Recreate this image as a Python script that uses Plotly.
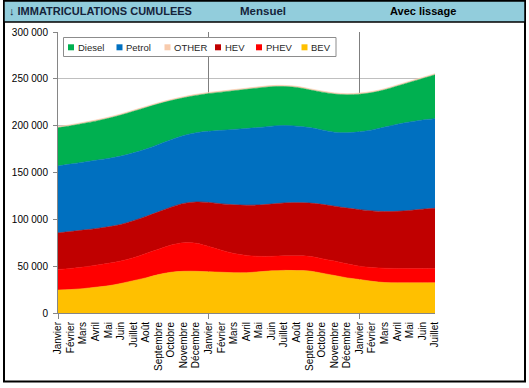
import plotly.graph_objects as go

# ---------------- data ----------------
months = ["Janvier", "Février", "Mars", "Avril", "Mai", "Juin", "Juillet", "Août",
          "Septembre", "Octobre", "Novembre", "Décembre",
          "Janvier", "Février", "Mars", "Avril", "Mai", "Juin", "Juillet", "Août",
          "Septembre", "Octobre", "Novembre", "Décembre",
          "Janvier", "Février", "Mars", "Avril", "Mai", "Juin", "Juillet"]

bev = [24500, 25000, 26000, 27500, 29000, 31500, 34500, 37500, 41000, 43500, 44500, 44500,
       44000, 43500, 43000, 43000, 44000, 45000, 45500, 45300, 44800, 42500, 40000, 37500,
       35700, 33800, 32500, 32200, 32200, 32200, 32300]
phev = [22000, 22500, 23000, 23500, 24000, 24000, 24500, 26000, 27000, 29000, 30500, 30000,
        27000, 23500, 20500, 18500, 16500, 15500, 15500, 15700, 15700, 15500, 15500, 15000,
        14300, 14700, 15300, 15300, 15200, 15200, 15200]
hev = [39000, 39500, 39500, 39000, 39000, 39000, 39500, 39500, 40000, 40500, 42000, 44000,
       47000, 49500, 52000, 53500, 54800, 55800, 56500, 56800, 56900, 58000, 58500, 59500,
       60300, 60500, 60500, 61000, 62100, 63400, 64300]
petrol = [71500, 72000, 72500, 73000, 73000, 73000, 72500, 72000, 72000, 72000, 72500, 74000,
          76000, 78500, 80500, 82000, 82700, 83200, 82700, 81700, 80600, 79500, 79000, 80500,
          83100, 86500, 90200, 93000, 94500, 95200, 95700]
diesel = [40800, 40800, 41300, 41800, 42800, 43800, 44300, 44300, 43300, 41800, 40300, 39800,
          40300, 40800, 41300, 41800, 42300, 42100, 41600, 41300, 40300, 40300, 40800, 40500,
          40200, 39800, 39800, 40800, 42300, 44300, 46800]
other = [1200, 1200, 1200, 1200, 1200, 1200, 1200, 1200, 1200, 1200, 1200, 1200,
         1200, 1200, 1200, 1200, 1200, 1200, 1200, 1200, 1200, 1200, 1200, 1200,
         1200, 1200, 1200, 1200, 1200, 1200, 1200]

# stacking order (bottom -> top)
series_names = ["BEV", "PHEV", "HEV", "Petrol", "Diesel", "OTHER"]
series_values = [bev, phev, hev, petrol, diesel, other]
colors = {"Diesel": "#00B050", "Petrol": "#0070C0", "OTHER": "#F8CBAD",
          "HEV": "#C00000", "PHEV": "#FF0000", "BEV": "#FFC000"}
legend_order = ["Diesel", "Petrol", "OTHER", "HEV", "PHEV", "BEV"]

y_ticks = [0, 50000, 100000, 150000, 200000, 250000, 300000]
jan_ticks = [0, 12, 24]

# ---------------- figure ----------------
W, H = 529, 388
L, R, T, B = 58, 94, 32, 75
PW, PH = W - L - R, H - T - B


def px(x):
    return (x - L) / PW


def py(y):
    return (H - B - y) / PH


xs = list(range(len(months)))
fig = go.Figure()
for name, vals in zip(series_names, series_values):
    fig.add_trace(go.Scatter(
        x=xs, y=vals, name=name, stackgroup="one", mode="lines",
        line=dict(shape="spline", smoothing=1.0, width=0.6, color=colors[name]),
        fillcolor=colors[name], showlegend=False, hoverinfo="x+y+name"))

shapes = []
annotations = []

# outer frame + header band
shapes.append(dict(type="rect", xref="paper", yref="paper",
                   x0=px(4), x1=px(525), y0=py(381.5), y1=py(1),
                   line=dict(color="#000000", width=2), fillcolor="rgba(0,0,0,0)", layer="above"))
shapes.append(dict(type="rect", xref="paper", yref="paper",
                   x0=px(4), x1=px(525), y0=py(22), y1=py(1),
                   line=dict(color="#000000", width=1.5), fillcolor="#92CDDC", layer="above"))

hdr_font = dict(family="Liberation Sans, Arial, sans-serif", size=11, color="#14233A")
annotations.append(dict(text="<b>↓ IMMATRICULATIONS CUMULEES</b>",
                        xref="paper", yref="paper",
                        x=px(7), y=py(11.5), xanchor="left", yanchor="middle",
                        showarrow=False, font=hdr_font))
annotations.append(dict(text="<b>Mensuel</b>", xref="paper", yref="paper",
                        x=px(263), y=py(11.5), xanchor="center", yanchor="middle",
                        showarrow=False, font=dict(family="Liberation Sans, Arial, sans-serif",
                                                   size=11.5, color="#14233A")))
annotations.append(dict(text="<b>Avec lissage</b>", xref="paper", yref="paper",
                        x=px(388), y=py(11.5), xanchor="left", yanchor="middle",
                        showarrow=False,
                        font=dict(family="Liberation Sans, Arial, sans-serif", size=11, color="#000000")))

# legend (Excel-style: small squares with text right next to them)
shapes.append(dict(type="rect", xref="paper", yref="paper",
                   x0=px(63.5), x1=px(336), y0=py(56.5), y1=py(37.5),
                   line=dict(color="#8C8C8C", width=1), fillcolor="#FFFFFF", layer="above"))
leg_x = [68, 116.5, 164.5, 215, 256, 301.5]
for name, lx in zip(legend_order, leg_x):
    shapes.append(dict(type="rect", xref="paper", yref="paper",
                       x0=px(lx), x1=px(lx + 6), y0=py(50.3), y1=py(44.3),
                       line=dict(width=0), fillcolor=colors[name], layer="above"))
    annotations.append(dict(text=name, xref="paper", yref="paper",
                            x=px(lx + 7.5), y=py(47.3), xanchor="left", yanchor="middle",
                            showarrow=False,
                            font=dict(family="Liberation Sans, Arial, sans-serif", size=9.5,
                                      color="#262626")))

fig.update_layout(
    width=W, height=H,
    margin=dict(l=L, r=R, t=T, b=B, pad=0),
    paper_bgcolor="#FFFFFF", plot_bgcolor="#FFFFFF",
    separators=", ",
    showlegend=False,
    font=dict(family="Liberation Sans, Arial, sans-serif", size=10, color="#000000"),
    shapes=shapes, annotations=annotations,
    xaxis=dict(range=[0, len(months) - 1], tickmode="array", tickvals=xs, ticktext=months,
               tickangle=-90, ticks="", showgrid=False, zeroline=False,
               showline=True, linecolor="#868686", linewidth=1,
               tickfont=dict(size=10, color="#000000"), ticklabelstandoff=4),
    xaxis2=dict(overlaying="x", matches="x", anchor="y", side="bottom",
                tickmode="array", tickvals=jan_ticks, showticklabels=False,
                ticks="outside", ticklen=5, tickcolor="#868686",
                showgrid=True, gridcolor="#7F7F7F", gridwidth=1, showline=False, zeroline=False),
    yaxis=dict(range=[0, 300000], tickmode="array", tickvals=y_ticks, tickformat=",d",
               ticks="outside", ticklen=4, tickcolor="#868686",
               showgrid=True, gridcolor="#BFBFBF", gridwidth=1, zeroline=False,
               showline=True, linecolor="#868686", linewidth=1,
               tickfont=dict(size=10, color="#000000"), ticklabelstandoff=3),
)
# overlay axis reference (carries no visible mark) so the January grid axis is drawn
fig.add_trace(go.Scatter(x=[None], y=[None], xaxis="x2", yaxis="y", showlegend=False,
                         hoverinfo="skip"))

fig.write_html("out.html",
               config={"displayModeBar": False},
               post_script="document.body.style.margin='0';document.body.style.overflow='hidden';")
